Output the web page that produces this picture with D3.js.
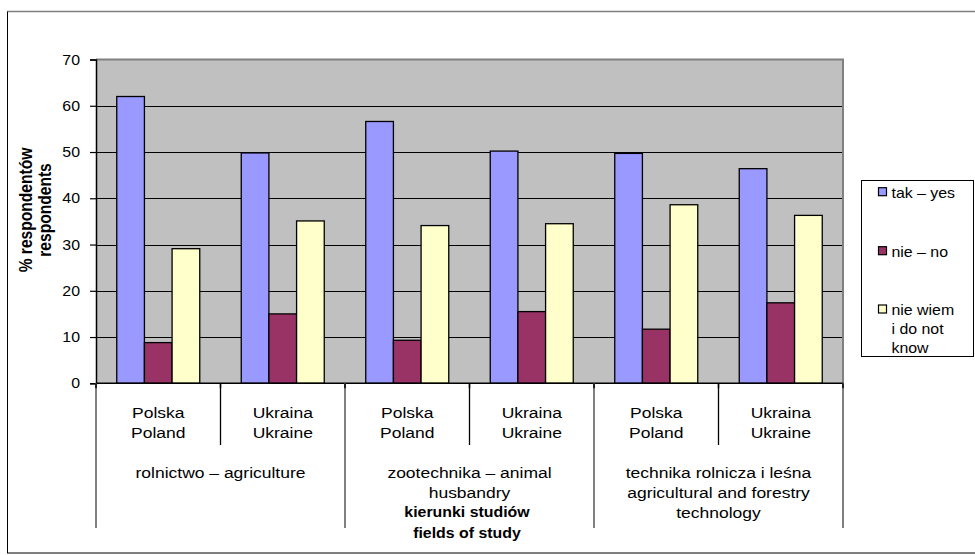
<!DOCTYPE html>
<html>
<head>
<meta charset="utf-8">
<script src="https://cdn.jsdelivr.net/npm/d3@7"></script>
<style>
  html, body { margin: 0; padding: 0; background: #fff; }
  svg { display: block; font-family: "Liberation Sans", Arial, sans-serif; }
</style>
</head>
<body>
<svg id="chart" width="975" height="555"></svg>
<script>
// Countries on the inner axis level, fields of study on the outer level
const countries = [
  ["Polska", "Poland"], ["Ukraina", "Ukraine"],
  ["Polska", "Poland"], ["Ukraina", "Ukraine"],
  ["Polska", "Poland"], ["Ukraina", "Ukraine"]
];
const fields = [
  ["rolnictwo – agriculture"],
  ["zootechnika – animal", "husbandry"],
  ["technika rolnicza i leśna", "agricultural and forestry", "technology"]
];
const seriesNames = [["tak – yes"], ["nie – no"], ["nie wiem", "i do not", "know"]];
const yesValues = [62.0, 49.8, 56.6, 50.2, 49.7, 46.4];
const noValues = [8.8, 15.0, 9.3, 15.5, 11.7, 17.4];
const dontKnowValues = [29.1, 35.1, 34.1, 34.5, 38.6, 36.3];
const yTicks = [0, 10, 20, 30, 40, 50, 60, 70];
const axisTitle = ["% respondentów", "respondents"];
const xTitle = ["kierunki studiów", "fields of study"];

const colors = ["#9999FF", "#993366", "#FFFFCC"];
const series = [yesValues, noValues, dontKnowValues];
const SX = 1.135; // horizontal text stretch

const svg = d3.select("#chart");

// Helper: horizontally stretched text
function stext(g, xPos, yPos, str, opts = {}) {
  return g.append("text")
    .attr("transform", `translate(${xPos},${yPos}) scale(${SX},1)`)
    .attr("text-anchor", opts.anchor || "middle")
    .attr("font-size", opts.size || 15.4)
    .attr("font-weight", opts.weight || "normal")
    .attr("fill", "#000")
    .text(str);
}

// Outer chart frame
svg.append("rect")
  .attr("x", 7.5).attr("y", 11.5).attr("width", 975).attr("height", 541.5)
  .attr("fill", "#fff").attr("stroke", "#000").attr("stroke-width", 1);
svg.append("line").attr("x1", 7.5).attr("x2", 975).attr("y1", 11.5).attr("y2", 11.5)
  .attr("stroke", "#808080").attr("stroke-width", 1.5);

const plotLeft = 96, plotRight = 843, plotTop = 59.5, plotBottom = 383.3;
const y = d3.scaleLinear().domain([0, 70]).range([plotBottom, plotTop]);
const idx = d3.range(countries.length);
const x0 = d3.scaleBand().domain(idx).range([plotLeft, plotRight]).paddingInner(0).paddingOuter(0);
const x1 = d3.scaleBand().domain(d3.range(series.length)).range([0, x0.bandwidth()])
  .paddingInner(0).paddingOuter(0.75);

// Plot area
svg.append("rect")
  .attr("x", plotLeft).attr("y", plotTop)
  .attr("width", plotRight - plotLeft).attr("height", plotBottom - plotTop)
  .attr("fill", "#C0C0C0");

// Gridlines
svg.append("g").selectAll("line").data(yTicks.filter(t => t > 0 && t < 70)).join("line")
  .attr("x1", plotLeft).attr("x2", plotRight)
  .attr("y1", d => Math.round(y(d)) + 0.5).attr("y2", d => Math.round(y(d)) + 0.5)
  .attr("stroke", "#000").attr("stroke-width", 1);

// Plot border (top / right)
svg.append("path")
  .attr("d", `M${plotLeft},${plotTop}H${plotRight}V${plotBottom}`)
  .attr("fill", "none").attr("stroke", "#808080").attr("stroke-width", 2);

// Bars
const gBars = svg.append("g");
series.forEach((vals, s) => {
  gBars.selectAll(null).data(vals).join("rect")
    .attr("x", (d, i) => x0(i) + x1(s))
    .attr("y", d => y(d))
    .attr("width", x1.bandwidth())
    .attr("height", d => y(0) - y(d))
    .attr("fill", colors[s])
    .attr("stroke", "#000").attr("stroke-width", 1.3);
});

// Y axis: line and ticks from d3, labels drawn stretched
const yAxis = d3.axisLeft(y).tickValues(yTicks).tickSize(6).tickFormat("");
const gy = svg.append("g").attr("transform", `translate(${plotLeft},0)`).call(yAxis);
gy.select(".domain").attr("stroke", "#000").attr("stroke-width", 1.5);
gy.selectAll(".tick line").attr("stroke", "#000").attr("stroke-width", 1.2);
yTicks.forEach(t => stext(svg, 80, y(t) + 5, String(t), { anchor: "end", size: 14 }));

// Baseline
svg.append("line").attr("x1", plotLeft).attr("x2", plotRight)
  .attr("y1", plotBottom).attr("y2", plotBottom)
  .attr("stroke", "#000").attr("stroke-width", 1.5);

// Category separators
const boundaries = d3.range(countries.length + 1).map(i => i < countries.length ? x0(i) : plotRight);
const gx = svg.append("g");
boundaries.forEach((bx, i) => {
  const isGroup = i % 2 === 0;
  gx.append("line")
    .attr("x1", bx).attr("x2", bx).attr("y1", plotBottom).attr("y2", isGroup ? 528 : 445)
    .attr("stroke", isGroup ? "#808080" : "#000").attr("stroke-width", isGroup ? 2 : 1.3);
  gx.append("line")
    .attr("x1", bx).attr("x2", bx).attr("y1", plotBottom).attr("y2", plotBottom + 5)
    .attr("stroke", "#000").attr("stroke-width", 1.5);
});

// Country labels
countries.forEach((c, i) => {
  const cx = x0(i) + x0.bandwidth() / 2;
  c.forEach((line, k) => stext(gx, cx, 417.7 + k * 20.5, line));
});

// Field labels
fields.forEach((f, j) => {
  const cx = x0(2 * j) + x0.bandwidth();
  f.forEach((line, k) => stext(gx, cx, 477.7 + k * 20.3, line));
});

// X axis title (bold)
xTitle.forEach((line, k) => stext(gx, 467, 517.3 + k * 21, line, { size: 14, weight: "bold" }));

// Y axis title (bold, rotated)
axisTitle.forEach((line, k) => {
  svg.append("text")
    .attr("transform", `translate(${31.5 + k * 19},210) scale(${SX},1) rotate(-90)`)
    .attr("text-anchor", "middle")
    .attr("font-size", 15.6).attr("font-weight", "bold").attr("fill", "#000")
    .text(line);
});

// Legend
const lg = svg.append("g");
lg.append("rect").attr("x", 861.5).attr("y", 180.5).attr("width", 112).attr("height", 176)
  .attr("fill", "#fff").attr("stroke", "#000").attr("stroke-width", 1);
const legendBase = [197.7, 256.7, 315];
seriesNames.forEach((lines, s) => {
  lg.append("rect")
    .attr("x", 878.5).attr("y", legendBase[s] - 10).attr("width", 8).attr("height", 8)
    .attr("fill", colors[s]).attr("stroke", "#000").attr("stroke-width", 1.2);
  lines.forEach((line, k) => stext(lg, 891.5, legendBase[s] + k * 19.2, line, { anchor: "start", size: 14 }));
});
</script>
</body>
</html>
